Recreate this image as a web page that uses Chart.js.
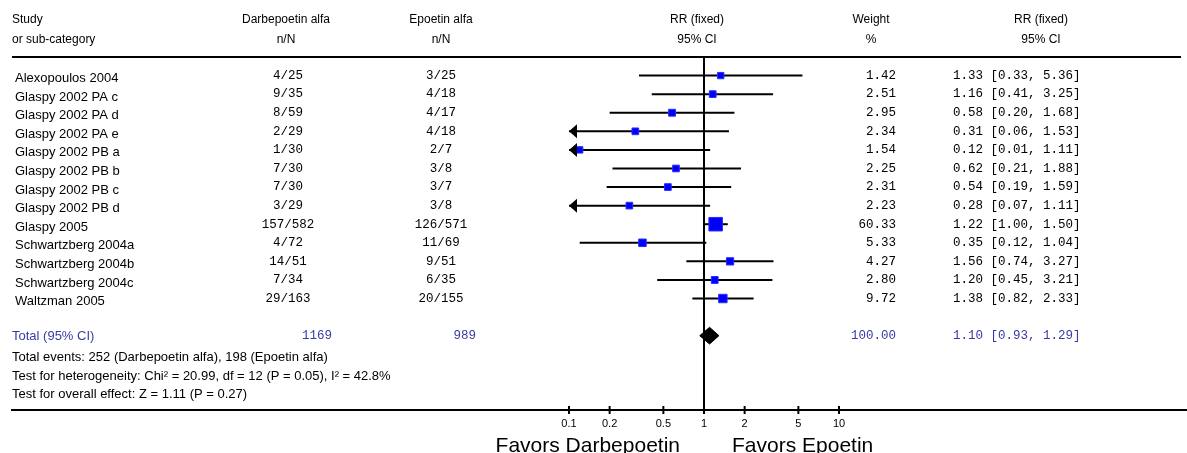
<html>
<head>
<script src="https://cdn.jsdelivr.net/npm/chart.js"></script>
<style>
  body { margin: 0; background: #fff; }
</style>
</head>
<body>
<div style="width:1187px;height:453px"><canvas id="myChart"></canvas></div>
<script>
const studies = ['Alexopoulos 2004', 'Glaspy 2002 PA c', 'Glaspy 2002 PA d', 'Glaspy 2002 PA e',
  'Glaspy 2002 PB a', 'Glaspy 2002 PB b', 'Glaspy 2002 PB c', 'Glaspy 2002 PB d', 'Glaspy 2005',
  'Schwartzberg 2004a', 'Schwartzberg 2004b', 'Schwartzberg 2004c', 'Waltzman 2005'];
const darbe = ['4/25', '9/35', '8/59', '2/29', '1/30', '7/30', '7/30', '3/29', '157/582', '4/72', '14/51', '7/34', '29/163'];
const epo = ['3/25', '4/18', '4/17', '4/18', '2/7', '3/8', '3/7', '3/8', '126/571', '11/69', '9/51', '6/35', '20/155'];
const weights = [1.42, 2.51, 2.95, 2.34, 1.54, 2.25, 2.31, 2.23, 60.33, 5.33, 4.27, 2.80, 9.72];
const rr = [1.33, 1.16, 0.58, 0.31, 0.12, 0.62, 0.54, 0.28, 1.22, 0.35, 1.56, 1.20, 1.38];
const lower = [0.33, 0.41, 0.20, 0.06, 0.01, 0.21, 0.19, 0.07, 1.00, 0.12, 0.74, 0.45, 0.82];
const upper = [5.36, 3.25, 1.68, 1.53, 1.11, 1.88, 1.59, 1.11, 1.50, 1.04, 3.27, 3.21, 2.33];

const totalLabel = 'Total (95% CI)';
const totalN = ['1169', '989'];
const totalWeight = 100.00;
const totalRR = [1.10, 0.93, 1.29]; // estimate, lower, upper

const tickValues = [0.1, 0.2, 0.5, 1, 2, 5, 10];
const footnotes = [
  'Total events: 252 (Darbepoetin alfa), 198 (Epoetin alfa)',
  'Test for heterogeneity: Chi\u00b2 = 20.99, df = 12 (P = 0.05), I\u00b2 = 42.8%',
  'Test for overall effect: Z = 1.11 (P = 0.27)'
];
const favors = ['Favors Darbepoetin', 'Favors Epoetin'];

const xMin = 0.1, xMax = 10;
const totalRow = studies.length + 1;
const SANS = '"Liberation Sans", Arial, sans-serif';
const MONO = '"Liberation Mono", "Courier New", monospace';
const BLUE = '#3a3aa6';

// CI lines, one small dataset per study
const ciSets = studies.map((s, i) => ({
  type: 'scatter',
  showLine: true,
  data: [{x: Math.max(lower[i], xMin), y: i}, {x: upper[i], y: i}],
  borderColor: '#000',
  borderWidth: 2,
  pointRadius: 0,
  order: 2
}));

const squareSet = {
  type: 'scatter',
  data: rr.map((v, i) => ({x: v, y: i})),
  pointStyle: 'rect',
  pointRadius: weights.map(w => (5 + 1.1 * Math.sqrt(w)) / Math.SQRT2),
  backgroundColor: '#0000ff',
  borderColor: '#2a2aff',
  borderWidth: 1,
  order: 0
};

const dh = 0.45;
const diamondSet = {
  type: 'scatter',
  showLine: true,
  data: [
    {x: totalRR[1], y: totalRow}, {x: totalRR[0], y: totalRow - dh},
    {x: totalRR[2], y: totalRow}, {x: totalRR[0], y: totalRow + dh},
    {x: totalRR[1], y: totalRow}
  ],
  borderColor: '#000',
  backgroundColor: '#000',
  borderWidth: 1,
  pointRadius: 0,
  fill: 'shape',
  tension: 0,
  order: 0
};

const nullLine = {
  type: 'scatter',
  showLine: true,
  data: [{x: 1, y: -1}, {x: 1, y: 18}],
  borderColor: '#000',
  borderWidth: 2,
  pointRadius: 0,
  order: 3
};

const tablePlugin = {
  id: 'table',
  afterDraw(chart) {
    const ctx = chart.ctx;
    const xs = chart.scales.x, ys = chart.scales.y;
    const W = chart.width;
    const rowY = i => ys.getPixelForValue(i);
    ctx.save();
    ctx.fillStyle = '#000';
    ctx.textBaseline = 'middle';

    // header
    ctx.font = '12px ' + SANS;
    ctx.textAlign = 'left';
    ctx.fillText('Study', 12, 20);
    ctx.fillText('or sub-category', 12, 40);
    ctx.textAlign = 'center';
    const heads = [[286, 'Darbepoetin alfa', 'n/N'], [441, 'Epoetin alfa', 'n/N'],
      [697, 'RR (fixed)', '95% CI'], [871, 'Weight', '%'], [1041, 'RR (fixed)', '95% CI']];
    heads.forEach(h => { ctx.fillText(h[1], h[0], 20); ctx.fillText(h[2], h[0], 40); });

    // rules
    ctx.strokeStyle = '#000';
    ctx.lineWidth = 2;
    ctx.beginPath();
    ctx.moveTo(12, ys.top); ctx.lineTo(1181, ys.top);
    ctx.moveTo(11, ys.bottom); ctx.lineTo(W, ys.bottom);
    ctx.stroke();

    // rows
    studies.forEach((s, i) => {
      const y = rowY(i);
      ctx.fillStyle = '#000';
      ctx.font = '13px ' + SANS;
      ctx.textAlign = 'left';
      ctx.fillText(s, 15, y + 3);
      ctx.font = '12.5px ' + MONO;
      ctx.textAlign = 'center';
      ctx.fillText(darbe[i], 288, y);
      ctx.fillText(epo[i], 441, y);
      ctx.textAlign = 'right';
      ctx.fillText(weights[i].toFixed(2), 896, y);
      ctx.textAlign = 'left';
      ctx.fillText(rr[i].toFixed(2) + ' [' + lower[i].toFixed(2) + ', ' + upper[i].toFixed(2) + ']', 953, y);

      // arrow when the interval runs past the left end of the scale
      if (lower[i] < xMin) {
        const x0 = xs.getPixelForValue(xMin);
        ctx.beginPath();
        ctx.moveTo(x0, y);
        ctx.lineTo(x0 + 8, y - 7);
        ctx.lineTo(x0 + 8, y + 7);
        ctx.closePath();
        ctx.fill();
      }
    });

    // total row
    const ty = rowY(totalRow);
    ctx.fillStyle = BLUE;
    ctx.font = '13px ' + SANS;
    ctx.textAlign = 'left';
    ctx.fillText(totalLabel, 12, ty + 1);
    ctx.font = '12.5px ' + MONO;
    ctx.textAlign = 'right';
    ctx.fillText(totalN[0], 332, ty);
    ctx.fillText(totalN[1], 476, ty);
    ctx.fillText(totalWeight.toFixed(2), 896, ty);
    ctx.textAlign = 'left';
    ctx.fillText(totalRR[0].toFixed(2) + ' [' + totalRR[1].toFixed(2) + ', ' + totalRR[2].toFixed(2) + ']', 953, ty);

    // footnotes
    ctx.fillStyle = '#000';
    ctx.font = '13px ' + SANS;
    footnotes.forEach((t, k) => ctx.fillText(t, 12, rowY(totalRow + 1.18 + k)));

    // ticks
    ctx.font = '11px ' + SANS;
    ctx.textAlign = 'center';
    ctx.lineWidth = 2;
    tickValues.forEach(v => {
      const x = xs.getPixelForValue(v);
      ctx.beginPath();
      ctx.moveTo(x, ys.bottom - 4); ctx.lineTo(x, ys.bottom + 4);
      ctx.stroke();
      ctx.fillText(String(v), x, ys.bottom + 14);
    });

    // favors labels
    const x1 = xs.getPixelForValue(1);
    ctx.font = '21px ' + SANS;
    ctx.textBaseline = 'alphabetic';
    ctx.textAlign = 'right';
    ctx.fillText(favors[0], x1 - 24, 452);
    ctx.textAlign = 'left';
    ctx.fillText(favors[1], x1 + 28, 452);
    ctx.restore();
  }
};

const ctx = document.getElementById('myChart').getContext('2d');
const myChart = new Chart(ctx, {
  type: 'scatter',
  data: { datasets: [squareSet, diamondSet, ...ciSets, nullLine] },
  options: {
    responsive: true,
    maintainAspectRatio: false,
    animation: false,
    layout: { padding: { left: 569, right: 348, top: 57, bottom: 43 } },
    plugins: { legend: { display: false }, tooltip: { enabled: false } },
    scales: {
      x: { type: 'logarithmic', min: xMin, max: xMax, display: false },
      y: { type: 'linear', min: -1, max: 18, reverse: true, display: false }
    },
    elements: { line: { tension: 0 } },
    datasets: { scatter: { clip: false } }
  },
  plugins: [tablePlugin]
});
</script>
</body>
</html>
